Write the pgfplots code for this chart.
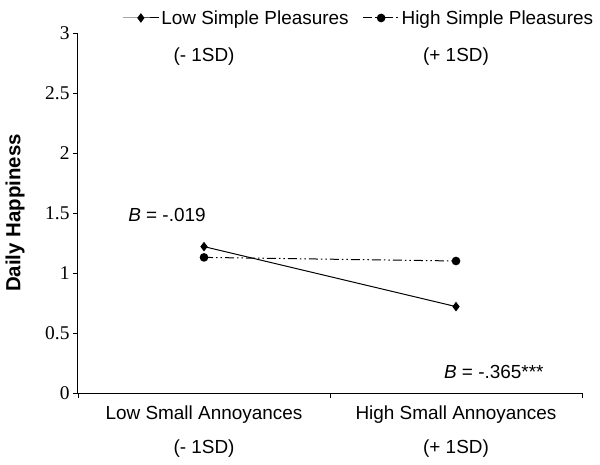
\documentclass[border=0pt]{standalone}
\usepackage{pgfplots}
\pgfplotsset{compat=1.18}
\usepackage{fontspec}
\setmainfont{Liberation Serif}
\setsansfont{Liberation Sans}
\newcommand{\lab}{\sffamily\fontsize{19}{22}\selectfont}
\begin{document}
\begin{tikzpicture}
\begin{axis}[
  name=ax,
  scale only axis, width=504bp, height=360bp,
  xmin=0, xmax=2, ymin=0, ymax=3,
  axis lines*=left,
  axis line style={line width=1bp},
  /pgf/number format/assume math mode=true,
  ytick={0,0.5,1,1.5,2,2.5,3},
  yticklabel style={font=\rmfamily\fontsize{19.5}{22}\selectfont},
  tick align=outside, major tick length=5bp,
  tick style={line width=0.9bp, black},
  xtick={0,1,2}, xticklabels={},
  extra x ticks={0.5,1.5},
  extra x tick labels={{Low Small Annoyances\\[12bp](- 1SD)},{High Small Annoyances\\[12bp](+ 1SD)}},
  extra x tick style={major tick length=0pt, xticklabel style={align=center, font=\lab, yshift=-9bp}},
  ylabel={\textbf{Daily Happiness}},
  ylabel style={at={(axis description cs:-0.125,0.5)}, anchor=center, font=\sffamily\fontsize{20.5}{23}\selectfont},
  legend columns=2,
  legend style={at={(axis description cs:0.557,1.0417)}, anchor=center, draw=none, fill=none, font=\lab,
    /tikz/every even column/.append style={column sep=12bp}},
  legend image code/.code={\draw[mark repeat=2,mark phase=2,#1] plot coordinates {(0bp,0bp) (18bp,0bp) (36bp,0bp)};},
  clip=false,
]
\addplot[black, line width=1bp, mark=diamond*, mark size=4bp, mark options={solid}] coordinates {(0.5,1.22) (1.5,0.72)};
\addlegendentry{Low Simple Pleasures}
\addplot[black, line width=1bp, dash pattern=on 9bp off 3bp on 1.5bp off 3bp on 1.5bp off 3bp, mark=*, mark size=3.8bp, mark options={solid}] coordinates {(0.5,1.13) (1.5,1.10)};
\addlegendentry{High Simple Pleasures}
\node[font=\lab] at (axis cs:0.5,2.8) {(- 1SD)};
\node[font=\lab] at (axis cs:1.5,2.8) {(+ 1SD)};
\node[font=\lab] at (axis cs:0.353,1.48) {\textit{B} = -.019};
\node[font=\lab] at (axis cs:1.65,0.175) {\textit{B} = -.365***};
\end{axis}
\pgfresetboundingbox
\path[use as bounding box] ([shift={(-78bp,-72bp)}]ax.south west) rectangle ([shift={(18bp,33bp)}]ax.north east);
\end{tikzpicture}
\end{document}
